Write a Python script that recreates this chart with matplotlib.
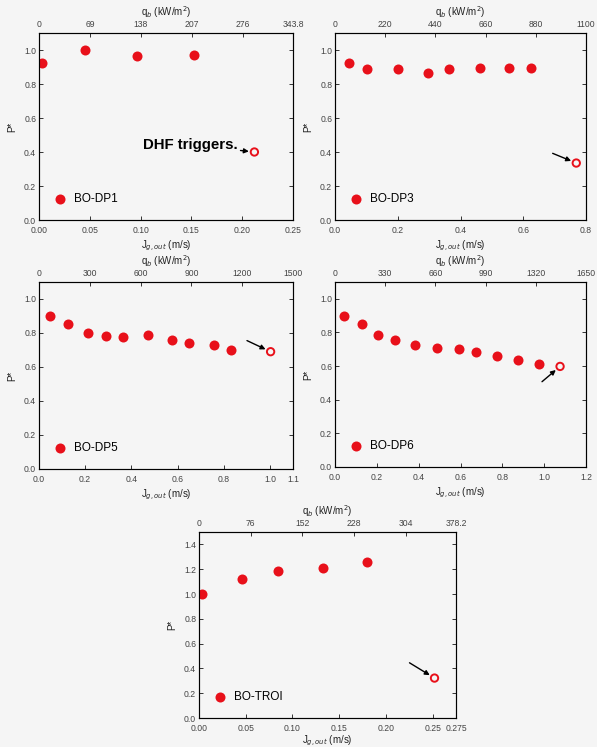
import matplotlib
matplotlib.use("Agg")
import matplotlib.pyplot as plt

plt.rcParams['font.family'] = ['Liberation Sans', 'DejaVu Sans']
plt.rcParams['xtick.direction'] = 'in'
plt.rcParams['ytick.direction'] = 'in'
plt.rcParams['axes.linewidth'] = 0.8

red = '#e8101a'
bg = '#f5f5f5'

# BO-DP1
dp1_j = [0.003, 0.045, 0.096, 0.153]
dp1_p = [0.921, 1.002, 0.963, 0.970]
dp1_open = (0.212, 0.400)
# BO-DP3
dp3_j = [0.046, 0.101, 0.200, 0.295, 0.362, 0.463, 0.556, 0.625]
dp3_p = [0.923, 0.888, 0.888, 0.864, 0.888, 0.892, 0.895, 0.892]
dp3_open = (0.769, 0.335)
# BO-DP5
dp5_j = [0.048, 0.127, 0.211, 0.288, 0.365, 0.470, 0.575, 0.650, 0.759, 0.833]
dp5_p = [0.900, 0.855, 0.800, 0.784, 0.775, 0.788, 0.761, 0.741, 0.729, 0.700]
dp5_open = (1.003, 0.690)
# BO-DP6
dp6_j = [0.045, 0.127, 0.206, 0.288, 0.381, 0.488, 0.593, 0.672, 0.774, 0.876, 0.977]
dp6_p = [0.900, 0.853, 0.786, 0.754, 0.723, 0.707, 0.703, 0.681, 0.659, 0.634, 0.614]
dp6_open = (1.076, 0.598)
# BO-TROI
troi_j = [0.003, 0.046, 0.084, 0.1325, 0.180]
troi_p = [0.997, 1.124, 1.186, 1.211, 1.259]
troi_open = (0.252, 0.322)

panels = [
    dict(name="BO-DP1", j=dp1_j, p=dp1_p, op=dp1_open, xmax=0.25,
         xt=[0, 0.05, 0.10, 0.15, 0.20, 0.25], xl=["0.00", "0.05", "0.10", "0.15", "0.20", "0.25"],
         qmax=343.8, qt=[0, 69, 138, 207, 276, 343.8], ql=["0", "69", "138", "207", "276", "343.8"],
         ymax=1.1, yt=[0, 0.2, 0.4, 0.6, 0.8, 1.0],
         rect=[39/597, 1-220/747, 254/597, 187/747], off=(-12, 5)),
    dict(name="BO-DP3", j=dp3_j, p=dp3_p, op=dp3_open, xmax=0.8,
         xt=[0, 0.2, 0.4, 0.6, 0.8], xl=["0.0", "0.2", "0.4", "0.6", "0.8"],
         qmax=1100, qt=[0, 220, 440, 660, 880, 1100], ql=["0", "220", "440", "660", "880", "1100"],
         ymax=1.1, yt=[0, 0.2, 0.4, 0.6, 0.8, 1.0],
         rect=[335/597, 1-220/747, 251/597, 187/747], off=(-17, 7)),
    dict(name="BO-DP5", j=dp5_j, p=dp5_p, op=dp5_open, xmax=1.1,
         xt=[0, 0.2, 0.4, 0.6, 0.8, 1.0, 1.1], xl=["0.0", "0.2", "0.4", "0.6", "0.8", "1.0", "1.1"],
         qmax=1500, qt=[0, 300, 600, 900, 1200, 1500], ql=["0", "300", "600", "900", "1200", "1500"],
         ymax=1.1, yt=[0, 0.2, 0.4, 0.6, 0.8, 1.0],
         rect=[39/597, 1-469/747, 254/597, 187/747], off=(-17, 8)),
    dict(name="BO-DP6", j=dp6_j, p=dp6_p, op=dp6_open, xmax=1.2,
         xt=[0, 0.2, 0.4, 0.6, 0.8, 1.0, 1.2], xl=["0.0", "0.2", "0.4", "0.6", "0.8", "1.0", "1.2"],
         qmax=1650, qt=[0, 330, 660, 990, 1320, 1650], ql=["0", "330", "660", "990", "1320", "1650"],
         ymax=1.1, yt=[0, 0.2, 0.4, 0.6, 0.8, 1.0],
         rect=[335/597, 1-467/747, 251/597, 185/747], off=(-13, -11)),
    dict(name="BO-TROI", j=troi_j, p=troi_p, op=troi_open, xmax=0.275,
         xt=[0, 0.05, 0.10, 0.15, 0.20, 0.25, 0.275], xl=["0.00", "0.05", "0.10", "0.15", "0.20", "0.25", "0.275"],
         qmax=378.2, qt=[0, 76, 152, 228, 304, 378.2], ql=["0", "76", "152", "228", "304", "378.2"],
         ymax=1.5, yt=[0, 0.2, 0.4, 0.6, 0.8, 1.0, 1.2, 1.4],
         rect=[199/597, 1-718/747, 257/597, 186/747], off=(-18, 11)),
]

fig = plt.figure(figsize=(5.97, 7.47), dpi=100, facecolor=bg)

for k, pn in enumerate(panels):
    ax = fig.add_axes(pn['rect'])
    ax.set_facecolor(bg)
    ax.scatter(pn['j'], pn['p'], s=52, color=red, zorder=3, label=pn['name'], linewidths=0)
    ax.scatter([pn['op'][0]], [pn['op'][1]], s=28, facecolors='none', edgecolors=red, linewidths=1.4, zorder=3)
    ax.set_xlim(0, pn['xmax'])
    ax.set_ylim(0, pn['ymax'])
    ax.set_xticks(pn['xt'])
    ax.set_xticklabels(pn['xl'])
    ax.set_yticks(pn['yt'])
    ax.set_yticklabels(["%.1f" % v for v in pn['yt']])
    ax.tick_params(labelsize=6.2, length=3, width=0.7, right=True, colors='#333333', labelcolor='#444444', pad=2)
    ax.tick_params(axis='x', pad=4)
    # the last panel sits at the bottom edge, so its label goes a little closer
    ax.set_xlabel("J$_{g,out}$ (m/s)", fontsize=7, labelpad=1 if k == 4 else 3, color='#222222')
    ax.set_ylabel("P*", fontsize=7, labelpad=5, color='#222222')
    for s in ax.spines.values():
        s.set_color('#333333')
    ax.legend(loc='lower left', frameon=False, fontsize=8.5, handletextpad=0.2,
              borderaxespad=0.4, scatterpoints=1, bbox_to_anchor=(0.0, 0.03))

    top = ax.twiny()
    top.set_xlim(0, pn['qmax'])
    top.set_xticks(pn['qt'])
    top.set_xticklabels(pn['ql'])
    top.tick_params(labelsize=6.2, length=3, width=0.7, colors='#333333', labelcolor='#444444', pad=3)
    top.set_xlabel("q$_b$ (kW/m$^2$)", fontsize=7, labelpad=3, color='#222222')

    arrow = dict(arrowstyle='-|>', color='black', lw=1.0, mutation_scale=7, shrinkA=0, shrinkB=4)
    if k == 0:
        ax.annotate("DHF triggers.", xy=pn['op'], xytext=(pn['off'][0], pn['off'][1]),
                    textcoords='offset points', ha='right', va='center',
                    fontsize=10.8, fontweight='bold', arrowprops=arrow)
    else:
        ax.annotate("", xy=pn['op'], xytext=pn['off'], textcoords='offset points', arrowprops=arrow)

fig.savefig("out.png", dpi=100, facecolor=bg)
